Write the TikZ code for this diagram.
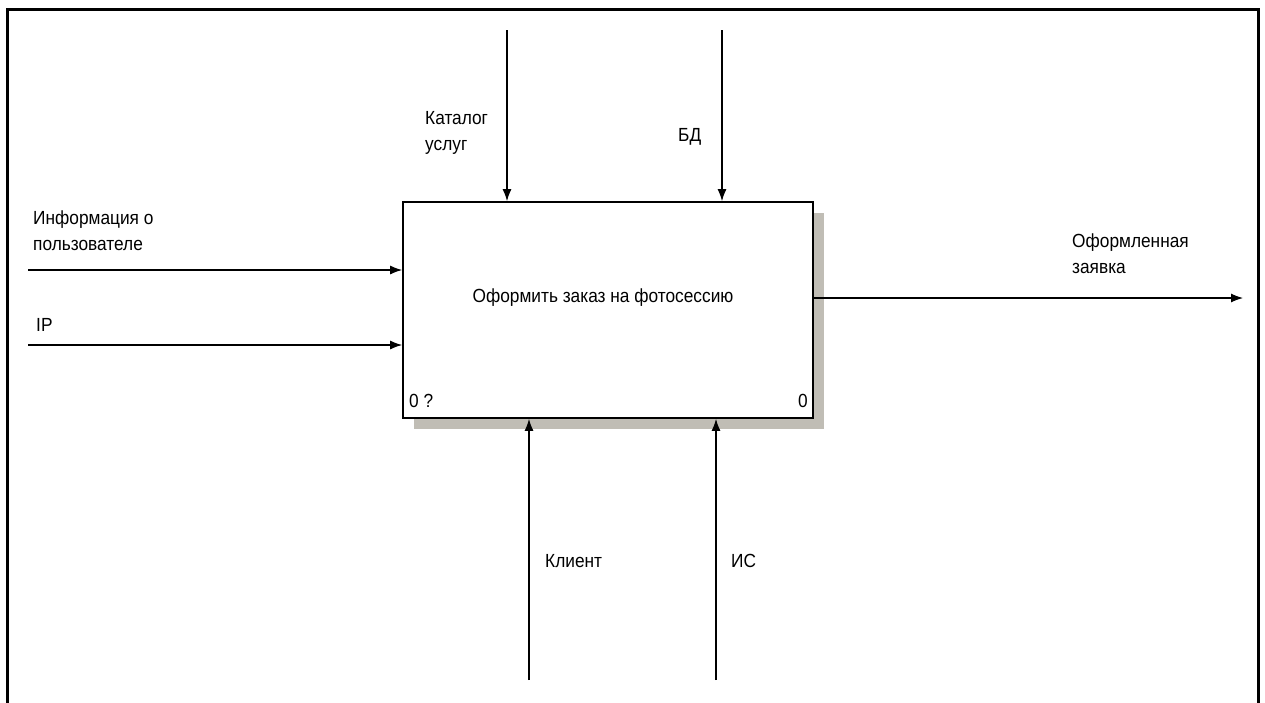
\documentclass[tikz,border=0pt]{standalone}
\usepackage{fontspec}
\setmainfont[FakeStretch=0.91]{Liberation Sans}
\usetikzlibrary{arrows.meta}
\tikzset{
  lbl/.style={inner sep=0pt, anchor=base west, align=left, font=\fontsize{19}{26}\selectfont},
  flow/.style={line width=1.1pt, -{Latex[length=12pt,width=9pt]}},
  frame/.style={line width=3pt},
}
\begin{document}
\begin{tikzpicture}[x=1pt,y=-1pt]
\useasboundingbox (0,0) rectangle (1265,702);
% frame
\draw[frame] (7.5,712) -- (7.5,9.5) -- (1258.5,9.5) -- (1258.5,712);
% shadow
\fill[fill={rgb,255:red,192;green,189;blue,181}] (414,213) rectangle (824,429);
% activity box
\node[draw, line width=1.8pt, fill=white, minimum width=410pt, minimum height=216pt, inner sep=0pt] (act) at (608,310) {};
\node[lbl, anchor=base] (title) at (603,302) {Оформить заказ на фотосессию};
\node[lbl] (n1) at (409,407) {0 ?};
\node[lbl, anchor=base east] (n2) at (808,407) {0};
% free ends
\coordinate (t1) at (507,30);
\coordinate (t2) at (722,30);
\coordinate (i1) at (28,270);
\coordinate (i2) at (28,345);
\coordinate (o1) at (1243,298);
\coordinate (b1) at (529,680);
\coordinate (b2) at (716,680);
% arrows
\draw[flow] (t1) -- (t1 |- act.north);
\draw[flow] (t2) -- (t2 |- act.north);
\draw[flow] (i1) -- (i1 -| act.west);
\draw[flow] (i2) -- (i2 -| act.west);
\draw[flow] (o1 -| act.east) -- (o1);
\draw[flow] (b1) -- (b1 |- act.south);
\draw[flow] (b2) -- (b2 |- act.south);
% labels (multi-line: base is the last line)
\node[lbl] (lt1) at (425,150) {Каталог\\услуг};
\node[lbl] (lt2) at (678,141) {БД};
\node[lbl] (li1) at (33,250) {Информация о\\пользователе};
\node[lbl] (li2) at (36,331) {IP};
\node[lbl] (lo1) at (1072,273) {Оформленная\\заявка};
\node[lbl] (lb1) at (545,567) {Клиент};
\node[lbl] (lb2) at (731,567) {ИС};
\end{tikzpicture}
\end{document}
